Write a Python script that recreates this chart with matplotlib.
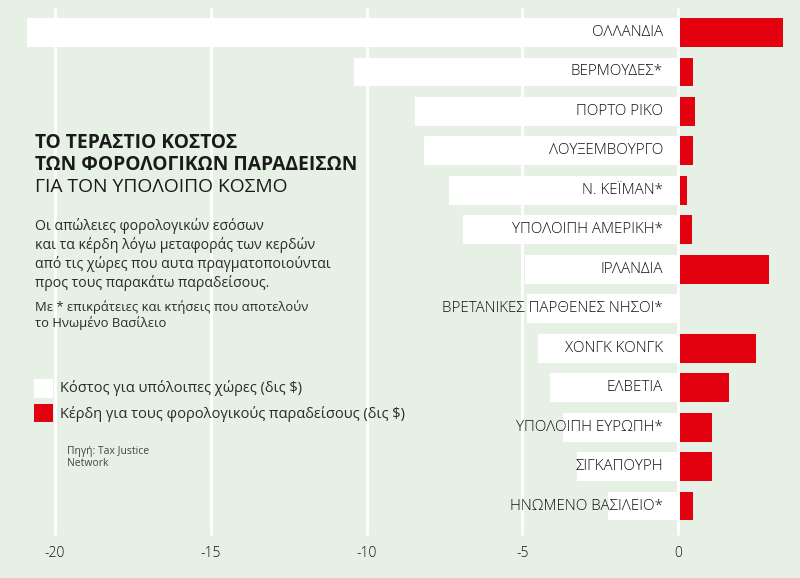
import matplotlib
matplotlib.use("Agg")
import matplotlib.pyplot as plt

plt.rcParams['font.family'] = ['Open Sans', 'DejaVu Sans']

countries = ["ΟΛΛΑΝΔΙΑ", "ΒΕΡΜΟΥΔΕΣ*", "ΠΟΡΤΟ ΡΙΚΟ", "ΛΟΥΞΕΜΒΟΥΡΓΟ", "Ν. ΚΕΪΜΑΝ*",
             "ΥΠΟΛΟΙΠΗ ΑΜΕΡΙΚΗ*", "ΙΡΛΑΝΔΙΑ", "ΒΡΕΤΑΝΙΚΕΣ ΠΑΡΘΕΝΕΣ ΝΗΣΟΙ*", "ΧΟΝΓΚ ΚΟΝΓΚ",
             "ΕΛΒΕΤΙΑ", "ΥΠΟΛΟΙΠΗ ΕΥΡΩΠΗ*", "ΣΙΓΚΑΠΟΥΡΗ", "ΗΝΩΜΕΝΟ ΒΑΣΙΛΕΙΟ*"]
costs = [-20.9, -10.4, -8.45, -8.15, -7.35, -6.9, -4.9, -4.85, -4.5, -4.1, -3.7, -3.25, -2.25]
gains = [3.3, 0.42, 0.5, 0.42, 0.22, 0.38, 2.86, 0.0, 2.44, 1.57, 1.03, 1.03, 0.42]
xticks = [-20, -15, -10, -5, 0]
xticklabels = ["-20", "-15", "-10", "-5", "0"]

title_bold = ["ΤΟ ΤΕΡΑΣΤΙΟ ΚΟΣΤΟΣ", "ΤΩΝ ΦΟΡΟΛΟΓΙΚΩΝ ΠΑΡΑΔΕΙΣΩΝ"]
title_light = "ΓΙΑ ΤΟΝ ΥΠΟΛΟΙΠΟ ΚΟΣΜΟ"
subtitle = ["Οι απώλειες φορολογικών εσόσων",
            "και τα κέρδη λόγω μεταφοράς των κερδών",
            "από τις χώρες που αυτα πραγματοποιούνται",
            "προς τους παρακάτω παραδείσους."]
note = ["Με * επικράτειες και κτήσεις που αποτελούν", "το Ηνωμένο Βασίλειο"]
legend_labels = ["Κόστος για υπόλοιπες χώρες (δις $)", "Κέρδη για τους φορολογικούς παραδείσους (δις $)"]
source = ["Πηγή: Tax Justice", "Network"]

BG = "#e7f0e5"
RED = "#e3000f"
TXT = "#2b2b2b"

W, H = 800, 578
fig = plt.figure(figsize=(W / 100, H / 100), dpi=100, facecolor=BG)
ax = fig.add_axes([0, 0, 1, 1])
ax.set_facecolor(BG)

px_per_unit = 31.15
x0 = 678
ax.set_xlim((0 - x0) / px_per_unit, (W - x0) / px_per_unit)
pitch = 39.46
y0 = 32.5
ax.set_ylim((H - y0) / pitch, (0 - y0) / pitch)
ax.axis("off")

ypos = list(range(len(countries)))

# gridlines
ax.vlines(xticks, (8 - y0) / pitch, (535 - y0) / pitch, colors="white", linewidth=2.0, zorder=1)

ax.barh(ypos, costs, height=0.73, color="white", zorder=2)
ax.barh(ypos, gains, height=0.73, left=0.06, color=RED, zorder=2)

for i, c in zip(ypos, countries):
    ax.text(-0.48, i, c, ha="right", va="center", fontsize=10.9, fontweight="light",
            color="#111111", zorder=3)

for t, l in zip(xticks, xticklabels):
    ax.text(t, (553 - y0) / pitch, l, ha="center", va="center", fontsize=10,
            fontweight="light", color="#111111")

def fx(px):
    return px / W

def fy(py):
    return 1 - py / H

fig.text(fx(35), fy(143), title_bold[0], fontsize=13.9, fontweight="bold", color="#1a1a1a", va="center")
fig.text(fx(35), fy(165), title_bold[1], fontsize=13.9, fontweight="bold", color="#1a1a1a", va="center")
fig.text(fx(35), fy(187), title_light, fontsize=13.9, color="#1a1a1a", va="center")

for k, s in enumerate(subtitle):
    fig.text(fx(35), fy(226 + 19 * k), s, fontsize=10.2, color=TXT, va="center")
for k, s in enumerate(note):
    fig.text(fx(35), fy(307 + 16 * k), s, fontsize=9.4, color=TXT, va="center")

# legend
fig.patches.append(plt.Rectangle((fx(34), fy(398)), 19 / W, 19 / H, transform=fig.transFigure,
                                 facecolor="white", edgecolor="none"))
fig.patches.append(plt.Rectangle((fx(34), fy(422)), 19 / W, 18 / H, transform=fig.transFigure,
                                 facecolor=RED, edgecolor="none"))
fig.text(fx(60), fy(388), legend_labels[0], fontsize=10.5, color=TXT, va="center")
fig.text(fx(60), fy(414), legend_labels[1], fontsize=10.5, color=TXT, va="center")

for k, s in enumerate(source):
    fig.text(fx(67), fy(451 + 12 * k), s, fontsize=7.5, color="#444444", va="center")

fig.savefig("out.png", dpi=100, facecolor=BG)
